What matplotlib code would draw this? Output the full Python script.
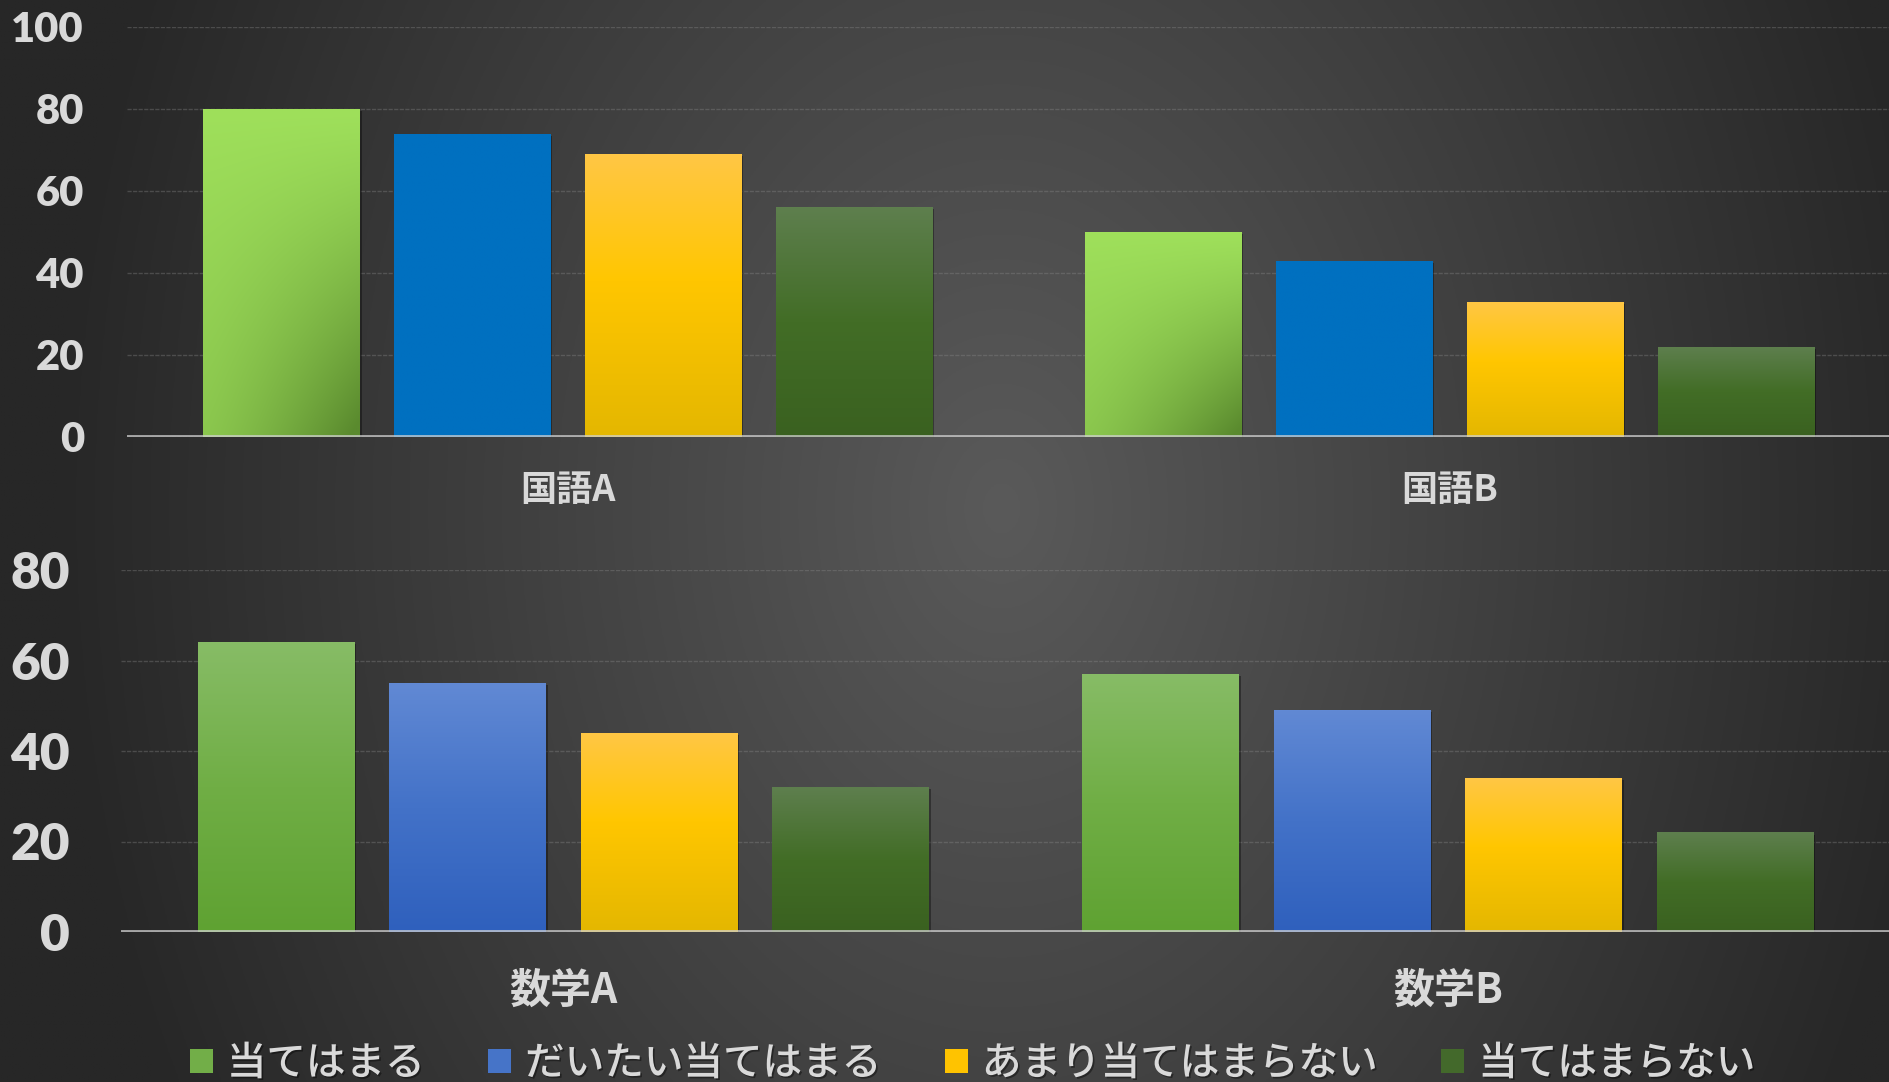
import numpy as np
import matplotlib
matplotlib.use('Agg')
import matplotlib.pyplot as plt
from matplotlib.patches import Patch
from matplotlib.colors import to_rgb
import matplotlib.patheffects as pe

# ---------------- data ----------------
series = ['当てはまる', 'だいたい当てはまる', 'あまり当てはまらない', '当てはまらない']
top_categories = ['国語A', '国語B']
bottom_categories = ['数学A', '数学B']

kokugo_atehamaru = [80, 50]
kokugo_daitai = [74, 43]
kokugo_amari = [69, 33]
kokugo_atehamaranai = [56, 22]

sugaku_atehamaru = [64, 57]
sugaku_daitai = [55, 49]
sugaku_amari = [44, 34]
sugaku_atehamaranai = [32, 22]

top_yticks = [0, 20, 40, 60, 80, 100]
bottom_yticks = [0, 20, 40, 60, 80]

# ---------------- style ----------------
TEXT = '#d9d9d9'
W, H = 1890, 1082
fig = plt.figure(figsize=(W / 100, H / 100), dpi=100)

# background gradient (style only)
bg_ax = fig.add_axes([0, 0, 1, 1], zorder=-10)
yy, xx = np.mgrid[0:1:400j, 0:1:700j]
r = np.sqrt(((xx - 0.53) / 0.5) ** 2 + 0.18 * ((yy - 0.47) / 0.5) ** 2)
r = np.clip(r, 0, 1)
light = np.array(to_rgb('#5a5a5a'))
dark = np.array(to_rgb('#272727'))
bg = light[None, None, :] + (dark - light)[None, None, :] * r[..., None]
bg_ax.imshow(bg, extent=[0, 1, 0, 1], aspect='auto', origin='upper')
bg_ax.set_axis_off()


def vstops(stops, n=200):
    pos = np.array([p for p, _ in stops])
    cols = np.array([to_rgb(c) for _, c in stops])
    v = np.linspace(0, 1, n)
    out = np.stack([np.interp(v, pos, cols[:, k]) for k in range(3)], axis=-1)
    return out[:, None, :]


def grad_img(kind):
    if kind == 'green_top':
        v, u = np.mgrid[0:1:200j, 0:1:60j]
        s = np.clip(0.3 * v + 0.75 * (u * v) ** 1.3, 0, 1)
        a = np.array(to_rgb('#9fe05b'))
        b = np.array(to_rgb('#5a8a2e'))
        return a + (b - a) * s[..., None]
    if kind == 'blue_top':
        return vstops([(0, '#0070c0'), (1, '#0070c0')])
    if kind == 'green':
        return vstops([(0, '#87bc66'), (0.5, '#70ae45'), (1, '#5fa232')])
    if kind == 'blue':
        return vstops([(0, '#6189d4'), (0.5, '#4372c8'), (1, '#2f60bd')])
    if kind == 'yellow':
        return vstops([(0, '#ffc745'), (0.45, '#ffc600'), (1, '#e4b700')])
    if kind == 'dgreen':
        return vstops([(0, '#5e7f4e'), (0.5, '#426d26'), (1, '#3a6120')])


bar_w = 0.177
step = 0.2165


def draw_panel(rect, cats, data, kinds, yticks, tick_fs, ytick_pad, cat_fs, cat_pad):
    ax = fig.add_axes(rect)
    ax.set_facecolor('none')
    x = np.arange(len(cats))
    for i, (vals, kind, name) in enumerate(zip(data, kinds, series)):
        bars = ax.bar(x + (i - 1.5) * step, vals, width=bar_w, color='#000000',
                      zorder=2, label=name, linewidth=0)
        for b in bars:
            b.set_path_effects([pe.SimplePatchShadow(offset=(1.5, -1.5), shadow_rgbFace='k', alpha=0.35),
                                pe.Normal()])
            im = ax.imshow(grad_img(kind), extent=[b.get_x(), b.get_x() + b.get_width(), 0, b.get_height()],
                           aspect='auto', origin='upper', zorder=2.1, interpolation='bilinear')
            im.set_clip_path(b)
    ax.set_xlim(-0.5, len(cats) - 0.5)
    ax.set_ylim(yticks[0], yticks[-1])
    ax.set_yticks(yticks)
    ax.set_yticklabels([str(t) for t in yticks])
    ax.set_xticks(x)
    ax.set_xticklabels(cats)
    for s in ax.spines.values():
        s.set_visible(False)
    ax.yaxis.grid(True, color='#8c8c8c', alpha=0.35, linewidth=1.0, linestyle=(0, (3, 1)))
    ax.set_axisbelow(True)
    ax.axhline(0, color='#d0d0d0', alpha=0.75, linewidth=2.8, zorder=3)
    ax.tick_params(axis='y', length=0, pad=ytick_pad, colors=TEXT)
    ax.tick_params(axis='x', length=0, pad=cat_pad, colors=TEXT)
    for t in ax.get_yticklabels():
        t.set_fontfamily(['Lato', 'DejaVu Sans'])
        t.set_fontweight('heavy')
        t.set_fontsize(tick_fs)
    for t in ax.get_xticklabels():
        t.set_fontfamily(['Noto Sans CJK JP', 'DejaVu Sans'])
        t.set_fontweight('bold')
        t.set_fontsize(cat_fs)
    return ax


top_rect = [127 / W, 1 - 437 / H, 1 - 127 / W, (437 - 27) / H]
bot_rect = [121 / W, 1 - 932 / H, 1 - 121 / W, (932 - 570) / H]

draw_panel(top_rect, top_categories,
           [kokugo_atehamaru, kokugo_daitai, kokugo_amari, kokugo_atehamaranai],
           ['green_top', 'blue_top', 'yellow', 'dgreen'], top_yticks, 30, 31, 26, 25)
draw_panel(bot_rect, bottom_categories,
           [sugaku_atehamaru, sugaku_daitai, sugaku_amari, sugaku_atehamaranai],
           ['green', 'blue', 'yellow', 'dgreen'], bottom_yticks, 37, 37, 29.5, 27)

handles = [Patch(facecolor=c, edgecolor='none') for c in ['#72ae48', '#4674c8', '#ffc300', '#43692b']]
leg = fig.legend(handles, series, loc='center left', bbox_to_anchor=(190 / W, 1 - 1064 / H),
                 ncol=4, frameon=False, handlelength=0.58, handleheight=0.58, handletextpad=0.35,
                 columnspacing=1.6, borderpad=0, borderaxespad=0,
                 prop={'family': ['Noto Sans CJK JP', 'DejaVu Sans'], 'size': 28.5, 'weight': 'medium'})
for t in leg.get_texts():
    t.set_color(TEXT)
    t.set_path_effects([pe.withSimplePatchShadow(offset=(1.2, -1.2), shadow_rgbFace='k', alpha=0.4)])

fig.savefig('out.png', dpi=100)
